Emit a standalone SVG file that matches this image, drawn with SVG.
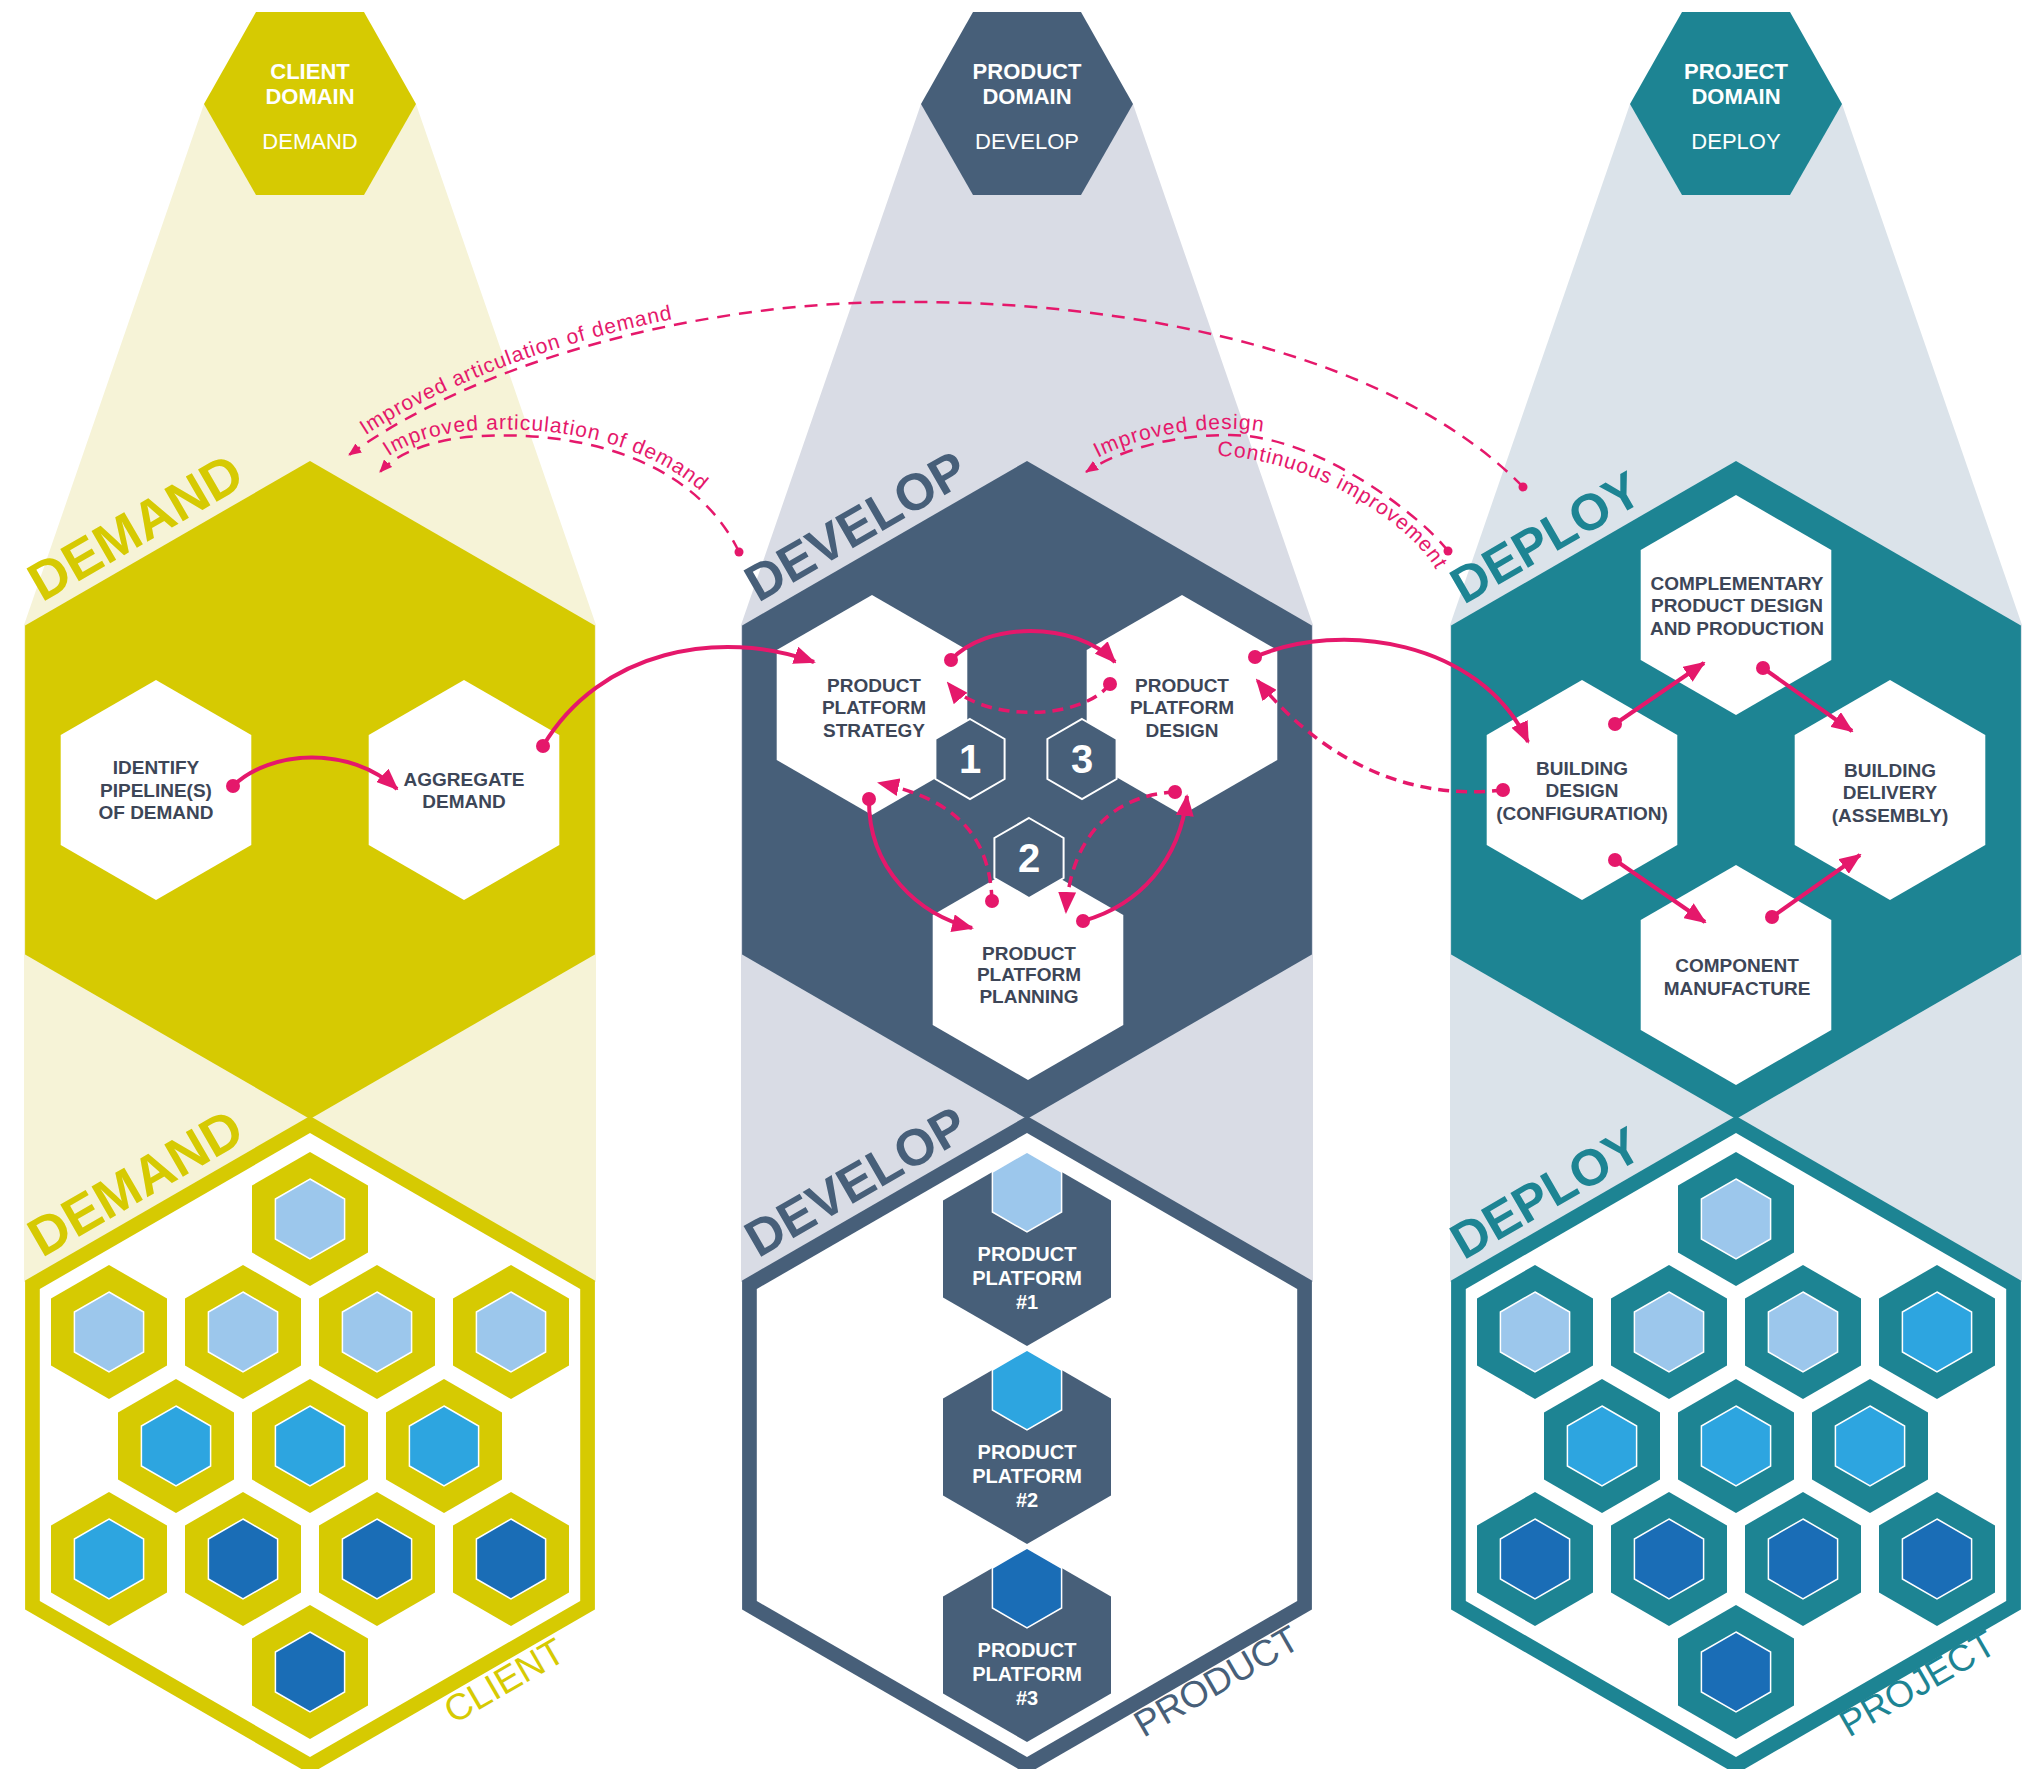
<svg xmlns="http://www.w3.org/2000/svg" xmlns:xlink="http://www.w3.org/1999/xlink" width="2027" height="1769" viewBox="0 0 2027 1769">
<style>
text{font-family:'Liberation Sans',Arial,sans-serif}
.dom{font-size:22px;font-weight:bold;fill:#fff;text-anchor:middle}
.domr{font-size:22px;fill:#fff;text-anchor:middle}
.lbl{font-size:19px;font-weight:bold;fill:#3d4657;text-anchor:middle}
.big{font-weight:bold}
.thin{font-size:37px}
.plt{font-size:20px;font-weight:bold;fill:#fff;text-anchor:middle}
.num{font-size:40px;font-weight:bold;fill:#fff;text-anchor:middle}
.c{fill:none;stroke:#e5186b;stroke-width:4}
.d{stroke-dasharray:11 7;stroke-width:3.5}
.f{fill:none;stroke:#e5186b;stroke-width:2.5;stroke-dasharray:13 9}
.ft{font-size:21px;fill:#e5186b;letter-spacing:1px}
.dot{fill:#e5186b}
.cell{stroke:#fff;stroke-width:1.5}
</style>
<defs>
<polygon id="topHex" points="-54,-92 54,-92 106,0 54,91 -54,91 -106,0"/>
<polygon id="bigHex" points="0,-329 284.9,-164.5 284.9,164.5 0,329 -284.9,164.5 -284.9,-164.5"/>
<polygon id="bigHexIn" points="0,-312 270.2,-156 270.2,156 0,312 -270.2,156 -270.2,-156"/>
<polygon id="wHex" points="0,-110 95.3,-55 95.3,55 0,110 -95.3,55 -95.3,-55"/>
<polygon id="sHex" points="0,-40 34.6,-20 34.6,20 0,40 -34.6,20 -34.6,-20"/>
<polygon id="ring" points="0,-67 58,-33.5 58,33.5 0,67 -58,33.5 -58,-33.5"/>
<polygon id="plat" points="0,-97 84,-48.5 84,48.5 0,97 -84,48.5 -84,-48.5"/>
<marker id="ah" markerUnits="userSpaceOnUse" markerWidth="22" markerHeight="18" refX="20" refY="9" orient="auto"><path d="M0,0 L22,9 L0,18 z" fill="#e5186b"/></marker>
<marker id="ahs" markerUnits="userSpaceOnUse" markerWidth="13" markerHeight="11" refX="12" refY="5.5" orient="auto"><path d="M0,0 L13,5.5 L0,11 z" fill="#e5186b"/></marker>
<path id="tp1" d="M344,450 C476,354 700,296 900,296 C1100,296 1350,356 1400,370"/>
<path id="tp2" d="M375,468 C396,445 438,432 480,430 C603,424 706,466 745,549"/>
<path id="tp3" d="M1083,466 C1118,444 1170,429 1230,429 C1300,429 1380,470 1420,520"/>
<path id="tp4" d="M1200,455 C1320,455 1410,530 1432,563 C1445,585 1450,600 1455,620"/>
</defs>

<g id="backgrounds">
<polygon points="204,104 416,104 596,625 596,1282 24,1282 24,625" fill="#f6f3d7"/>
<polygon points="921,104 1133,104 1313,625 1313,1282 741,1282 741,625" fill="#d9dce5"/>
<polygon points="1630,104 1842,104 2022,625 2022,1282 1450,1282 1450,625" fill="#dbe3ea"/>
</g>

<g id="client-domain">
<use href="#topHex" x="310" y="104" fill="#d6ca02"/>
<text class="dom" x="310" y="79">CLIENT</text>
<text class="dom" x="310" y="104">DOMAIN</text>
<text class="domr" x="310" y="149">DEMAND</text>
</g>
<g id="product-domain">
<use href="#topHex" x="1027" y="104" fill="#475f79"/>
<text class="dom" x="1027" y="79">PRODUCT</text>
<text class="dom" x="1027" y="104">DOMAIN</text>
<text class="domr" x="1027" y="149">DEVELOP</text>
</g>
<g id="project-domain">
<use href="#topHex" x="1736" y="104" fill="#1d8493"/>
<text class="dom" x="1736" y="79">PROJECT</text>
<text class="dom" x="1736" y="104">DOMAIN</text>
<text class="domr" x="1736" y="149">DEPLOY</text>
</g>

<g id="demand-process">
<use href="#bigHex" x="310" y="790" fill="#d6ca02"/>
<text class="big" font-size="54" fill="#d6ca02" transform="translate(25,625) rotate(-30)" x="26" y="-11">DEMAND</text>
</g>
<g id="develop-process">
<use href="#bigHex" x="1027" y="790" fill="#475f79"/>
<text class="big" font-size="51.5" fill="#475f79" transform="translate(742,625) rotate(-30)" x="25" y="-11">DEVELOP</text>
</g>
<g id="deploy-process">
<use href="#bigHex" x="1736" y="790" fill="#1d8493"/>
<text class="big" font-size="51" fill="#1d8493" transform="translate(1451,625) rotate(-30)" x="21" y="-11">DEPLOY</text>
</g>

<g id="identify-pipelines">
<use href="#wHex" x="156" y="790" fill="#fff"/>
<text class="lbl" x="156" y="774">IDENTIFY</text>
<text class="lbl" x="156" y="797">PIPELINE(S)</text>
<text class="lbl" x="156" y="819">OF DEMAND</text>
</g>
<g id="aggregate-demand">
<use href="#wHex" x="464" y="790" fill="#fff"/>
<text class="lbl" x="464" y="786">AGGREGATE</text>
<text class="lbl" x="464" y="808">DEMAND</text>
</g>

<g id="platform-strategy">
<use href="#wHex" x="872" y="705" fill="#fff"/>
<text class="lbl" x="874" y="692">PRODUCT</text>
<text class="lbl" x="874" y="714">PLATFORM</text>
<text class="lbl" x="874" y="737">STRATEGY</text>
</g>
<g id="platform-design">
<use href="#wHex" x="1182" y="705" fill="#fff"/>
<text class="lbl" x="1182" y="692">PRODUCT</text>
<text class="lbl" x="1182" y="714">PLATFORM</text>
<text class="lbl" x="1182" y="737">DESIGN</text>
</g>
<g id="platform-planning">
<use href="#wHex" x="1028" y="970" fill="#fff"/>
<text class="lbl" x="1029" y="960">PRODUCT</text>
<text class="lbl" x="1029" y="981">PLATFORM</text>
<text class="lbl" x="1029" y="1003">PLANNING</text>
</g>
<g id="step-1">
<use href="#sHex" x="970" y="759" fill="#475f79" stroke="#fff" stroke-width="2"/>
<text class="num" x="970" y="773">1</text>
</g>
<g id="step-3">
<use href="#sHex" x="1082" y="759" fill="#475f79" stroke="#fff" stroke-width="2"/>
<text class="num" x="1082" y="773">3</text>
</g>
<g id="step-2">
<use href="#sHex" x="1029" y="858" fill="#475f79" stroke="#fff" stroke-width="2"/>
<text class="num" x="1029" y="872">2</text>
</g>

<g id="complementary-product">
<use href="#wHex" x="1736" y="605" fill="#fff"/>
<text class="lbl" x="1737" y="590">COMPLEMENTARY</text>
<text class="lbl" x="1737" y="612">PRODUCT DESIGN</text>
<text class="lbl" x="1737" y="635">AND PRODUCTION</text>
</g>
<g id="building-design">
<use href="#wHex" x="1582" y="790" fill="#fff"/>
<text class="lbl" x="1582" y="775">BUILDING</text>
<text class="lbl" x="1582" y="797">DESIGN</text>
<text class="lbl" x="1582" y="820">(CONFIGURATION)</text>
</g>
<g id="building-delivery">
<use href="#wHex" x="1890" y="790" fill="#fff"/>
<text class="lbl" x="1890" y="777">BUILDING</text>
<text class="lbl" x="1890" y="799">DELIVERY</text>
<text class="lbl" x="1890" y="822">(ASSEMBLY)</text>
</g>
<g id="component-manufacture">
<use href="#wHex" x="1736" y="975" fill="#fff"/>
<text class="lbl" x="1737" y="972">COMPONENT</text>
<text class="lbl" x="1737" y="995">MANUFACTURE</text>
</g>

<g id="client-portfolio">
<use href="#bigHex" x="310" y="1445" fill="#d6ca02"/>
<use href="#bigHexIn" x="310" y="1445" fill="#fff"/>
<text class="big" font-size="54" fill="#d6ca02" transform="translate(25,1280.5) rotate(-30)" x="26" y="-11">DEMAND</text>
<text class="thin" fill="#d6ca02" transform="translate(310,1774) rotate(-30)" x="149" y="29">CLIENT</text>
<g fill="#d6ca02">
<use href="#ring" x="310" y="1219"/>
<use href="#ring" x="109" y="1332"/><use href="#ring" x="243" y="1332"/><use href="#ring" x="377" y="1332"/><use href="#ring" x="511" y="1332"/>
<use href="#ring" x="176" y="1446"/><use href="#ring" x="310" y="1446"/><use href="#ring" x="444" y="1446"/>
<use href="#ring" x="109" y="1559"/><use href="#ring" x="243" y="1559"/><use href="#ring" x="377" y="1559"/><use href="#ring" x="511" y="1559"/>
<use href="#ring" x="310" y="1672"/>
</g>
<g class="cell">
<use href="#sHex" x="310" y="1219" fill="#9cc7ec"/>
<use href="#sHex" x="109" y="1332" fill="#9cc7ec"/><use href="#sHex" x="243" y="1332" fill="#9cc7ec"/><use href="#sHex" x="377" y="1332" fill="#9cc7ec"/><use href="#sHex" x="511" y="1332" fill="#9cc7ec"/>
<use href="#sHex" x="176" y="1446" fill="#2da5e0"/><use href="#sHex" x="310" y="1446" fill="#2da5e0"/><use href="#sHex" x="444" y="1446" fill="#2da5e0"/>
<use href="#sHex" x="109" y="1559" fill="#2da5e0"/><use href="#sHex" x="243" y="1559" fill="#1a6db6"/><use href="#sHex" x="377" y="1559" fill="#1a6db6"/><use href="#sHex" x="511" y="1559" fill="#1a6db6"/>
<use href="#sHex" x="310" y="1672" fill="#1a6db6"/>
</g>
</g>

<g id="product-portfolio">
<use href="#bigHex" x="1027" y="1445" fill="#475f79"/>
<use href="#bigHexIn" x="1027" y="1445" fill="#fff"/>
<text class="big" font-size="51.5" fill="#475f79" transform="translate(742,1280.5) rotate(-30)" x="25" y="-11">DEVELOP</text>
<text class="thin" fill="#475f79" transform="translate(1027,1774) rotate(-30)" x="119" y="27">PRODUCT</text>
</g>
<g id="product-platform-1">
<use href="#plat" x="1027" y="1249" fill="#475f79"/>
<use href="#sHex" x="1027" y="1192" fill="#9cc7ec" class="cell"/>
<text class="plt" x="1027" y="1261">PRODUCT</text>
<text class="plt" x="1027" y="1285">PLATFORM</text>
<text class="plt" x="1027" y="1309">#1</text>
</g>
<g id="product-platform-2">
<use href="#plat" x="1027" y="1447" fill="#475f79"/>
<use href="#sHex" x="1027" y="1390" fill="#2da5e0" class="cell"/>
<text class="plt" x="1027" y="1459">PRODUCT</text>
<text class="plt" x="1027" y="1483">PLATFORM</text>
<text class="plt" x="1027" y="1507">#2</text>
</g>
<g id="product-platform-3">
<use href="#plat" x="1027" y="1645" fill="#475f79"/>
<use href="#sHex" x="1027" y="1588" fill="#1a6db6" class="cell"/>
<text class="plt" x="1027" y="1657">PRODUCT</text>
<text class="plt" x="1027" y="1681">PLATFORM</text>
<text class="plt" x="1027" y="1705">#3</text>
</g>

<g id="project-portfolio">
<use href="#bigHex" x="1736" y="1445" fill="#1d8493"/>
<use href="#bigHexIn" x="1736" y="1445" fill="#fff"/>
<text class="big" font-size="51" fill="#1d8493" transform="translate(1451,1280.5) rotate(-30)" x="21" y="-11">DEPLOY</text>
<text class="thin" fill="#1d8493" transform="translate(1736,1774) rotate(-30)" x="116" y="25">PROJECT</text>
<g fill="#1d8493">
<use href="#ring" x="1736" y="1219"/>
<use href="#ring" x="1535" y="1332"/><use href="#ring" x="1669" y="1332"/><use href="#ring" x="1803" y="1332"/><use href="#ring" x="1937" y="1332"/>
<use href="#ring" x="1602" y="1446"/><use href="#ring" x="1736" y="1446"/><use href="#ring" x="1870" y="1446"/>
<use href="#ring" x="1535" y="1559"/><use href="#ring" x="1669" y="1559"/><use href="#ring" x="1803" y="1559"/><use href="#ring" x="1937" y="1559"/>
<use href="#ring" x="1736" y="1672"/>
</g>
<g class="cell">
<use href="#sHex" x="1736" y="1219" fill="#9cc7ec"/>
<use href="#sHex" x="1535" y="1332" fill="#9cc7ec"/><use href="#sHex" x="1669" y="1332" fill="#9cc7ec"/><use href="#sHex" x="1803" y="1332" fill="#9cc7ec"/><use href="#sHex" x="1937" y="1332" fill="#2da5e0"/>
<use href="#sHex" x="1602" y="1446" fill="#2da5e0"/><use href="#sHex" x="1736" y="1446" fill="#2da5e0"/><use href="#sHex" x="1870" y="1446" fill="#2da5e0"/>
<use href="#sHex" x="1535" y="1559" fill="#1a6db6"/><use href="#sHex" x="1669" y="1559" fill="#1a6db6"/><use href="#sHex" x="1803" y="1559" fill="#1a6db6"/><use href="#sHex" x="1937" y="1559" fill="#1a6db6"/>
<use href="#sHex" x="1736" y="1672" fill="#1a6db6"/>
</g>
</g>

<g id="connectors">
<path class="c" d="M233,786 C270,750 350,745 397,789" marker-end="url(#ah)"/>
<path class="c" d="M543,746 C600,650 720,628 814,662" marker-end="url(#ah)"/>
<path class="c" d="M951,660 C985,622 1075,620 1115,662" marker-end="url(#ah)"/>
<path class="c d" d="M1110,684 C1080,722 980,722 948,683" marker-end="url(#ah)"/>
<path class="c" d="M869,799 C868,870 920,915 972,928" marker-end="url(#ah)"/>
<path class="c d" d="M992,901 C990,840 960,800 879,783" marker-end="url(#ah)"/>
<path class="c" d="M1083,921 C1140,905 1180,860 1187,796" marker-end="url(#ah)"/>
<path class="c d" d="M1175,792 C1110,795 1070,840 1066,912" marker-end="url(#ah)"/>
<path class="c" d="M1255,657 C1340,620 1480,640 1528,742" marker-end="url(#ah)"/>
<path class="c d" d="M1503,790 C1420,800 1330,770 1257,680" marker-end="url(#ah)"/>
<path class="c" d="M1615,724 L1704,663" marker-end="url(#ah)"/>
<path class="c" d="M1763,668 L1852,731" marker-end="url(#ah)"/>
<path class="c" d="M1615,860 L1705,922" marker-end="url(#ah)"/>
<path class="c" d="M1772,917 L1860,855" marker-end="url(#ah)"/>
<g class="dot">
<circle cx="233" cy="786" r="7"/><circle cx="543" cy="746" r="7"/>
<circle cx="951" cy="660" r="7"/><circle cx="1110" cy="684" r="7"/>
<circle cx="869" cy="799" r="7"/><circle cx="992" cy="901" r="7"/>
<circle cx="1083" cy="921" r="7"/><circle cx="1175" cy="792" r="7"/>
<circle cx="1255" cy="657" r="7"/><circle cx="1503" cy="790" r="7"/>
<circle cx="1615" cy="724" r="7"/><circle cx="1763" cy="668" r="7"/>
<circle cx="1615" cy="860" r="7"/><circle cx="1772" cy="917" r="7"/>
<circle cx="1523" cy="487" r="4.5"/><circle cx="739" cy="552" r="4.5"/><circle cx="1448" cy="551" r="4.5"/>
</g>
<path class="f" d="M1523,487 C1400,360 1150,300 900,302 C700,302 480,360 349,455" marker-end="url(#ahs)"/>
<path class="f" d="M739,552 C700,470 600,430 480,436 C440,438 400,450 380,472" marker-end="url(#ahs)"/>
<path class="f" d="M1448,551 C1425,520 1320,435 1230,435 C1170,435 1120,450 1086,472" marker-end="url(#ahs)"/>
<text class="ft"><textPath href="#tp1" startOffset="26">Improved articulation of demand</textPath></text>
<text class="ft"><textPath href="#tp2" startOffset="18">Improved articulation of demand</textPath></text>
<text class="ft"><textPath href="#tp3" startOffset="17">Improved design</textPath></text>
<text class="ft"><textPath href="#tp4" startOffset="17">Continuous improvement</textPath></text>
</g>
</svg>
